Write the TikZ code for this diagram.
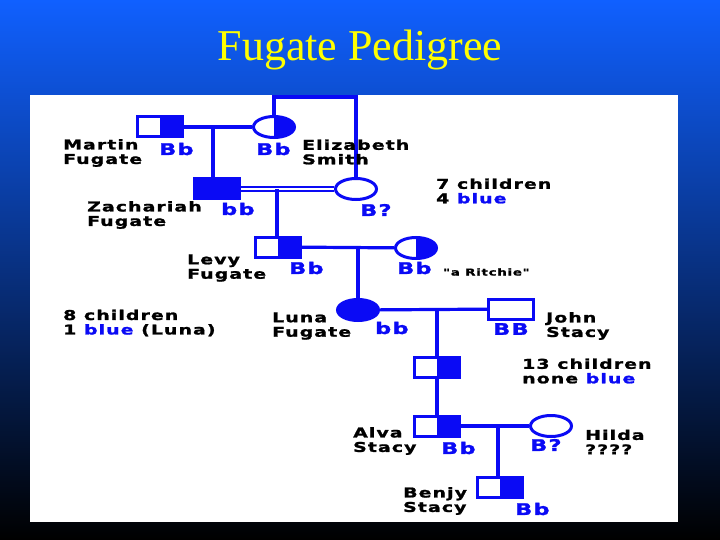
\documentclass[tikz,border=0pt]{standalone}
\usepackage{fontspec}
\setmainfont{Liberation Serif}
\newfontfamily\labf[FakeStretch=1.4,LetterSpace=8,FakeBold=1.5]{DejaVu Sans Bold}
\usetikzlibrary{shapes.geometric}
\definecolor{pb}{RGB}{10,10,245}
\definecolor{ttl}{RGB}{255,255,0}
\tikzset{
  sq/.style={draw=pb,line width=3pt,rectangle,minimum width=45pt,minimum height=20pt,inner sep=0pt},
  circ/.style={draw=pb,line width=3pt,ellipse,minimum width=41pt,minimum height=21pt,inner sep=0pt},
  half/.style={path picture={\fill[pb] (path picture bounding box.north) rectangle (path picture bounding box.south east);}},
  full/.style={fill=pb},
  con/.style={draw=pb,line width=3.2pt},
  lab/.style={anchor=west,align=left,inner sep=0pt,font=\labf\fontsize{13.5}{14.5}\selectfont,text=black},
  gen/.style={anchor=west,inner sep=0pt,font=\labf\fontsize{16}{16}\selectfont,text=pb},
}
\begin{document}
\begin{tikzpicture}[x=1pt,y=-1pt]
\shade[top color={rgb,255:red,16;green,96;blue,255},middle color={rgb,255:red,8;green,64;blue,210},bottom color=black] (0,0) rectangle (720,540);
\useasboundingbox (0,0) rectangle (720,540);
\node[text=ttl,font=\fontsize{44}{46}\selectfont] (title) at (360,50) {Fugate Pedigree};
\fill[white] (30,95) rectangle (678,522);
% shapes
\node[sq,half] (martin) at (160,127) {};
\node[circ,half] (eliz) at (274,127) {};
\node[sq,full] (zach) at (217,189) {};
\node[circ] (bq) at (356,189) {};
\node[sq,half] (levy) at (278,247) {};
\node[circ,half] (ritchie) at (416,248) {};
\node[circ,full] (luna) at (358,310) {};
\node[sq] (john) at (511,309) {};
\node[sq,half] (kid) at (437,367) {};
\node[sq,half] (alva) at (437,426) {};
\node[circ] (hilda) at (551,426) {};
\node[sq,half] (benjy) at (500,487) {};
% connectors
\coordinate (m1) at (213,127);
\coordinate (t2) at (356,97);
\coordinate (z1) at (277,189);
\coordinate (l1) at (358,248);
\coordinate (c1) at (437,309);
\coordinate (a1) at (498,426);
\draw[con] (martin) -- (eliz);
\draw[con] (m1) -- (m1 |- zach.north);
\draw[pb,line width=2pt,double=white,double distance=2pt] (zach.east) -- (bq.west);
\draw[con] (eliz.north) |- (t2) -- (bq.north);
\draw[con] (z1) -- (z1 |- levy.north);
\draw[con] (levy) -- (ritchie);
\draw[con] (l1) -- (luna.north);
\draw[con] (luna) -- (john);
\draw[con] (c1) -- (kid.north);
\draw[con] (kid) -- (alva);
\draw[con] (alva) -- (hilda);
\draw[con] (a1) -- (a1 |- benjy.north);
% labels
\node[lab] (lmartin) at (63,153) {Martin\\Fugate};
\node[gen] (gmartin) at (159,149) {Bb};
\node[gen] (geliz) at (256,149) {Bb};
\node[lab] (leliz) at (302,152) {Elizabeth\\Smith};
\node[lab] (l7) at (436,191) {7 children\\4 \textcolor{pb}{blue}};
\node[lab] (lzach) at (87,215) {Zachariah\\Fugate};
\node[gen] (gzach) at (221,209) {bb};
\node[gen] (gbq) at (360,210) {B?};
\node[lab] (llevy) at (187,268) {Levy\\Fugate};
\node[gen] (glevy) at (289,268) {Bb};
\node[gen] (grit) at (397,268) {Bb};
\node[lab,font=\labf\fontsize{9.5}{11}\selectfont] (lrit) at (443,272) {"a Ritchie"};
\node[lab] (l8) at (63,323) {8 children\\1 \textcolor{pb}{blue} (Luna)};
\node[lab] (lluna) at (272,326) {Luna\\Fugate};
\node[gen] (gluna) at (375,328) {bb};
\node[gen] (gjohn) at (493,329) {BB};
\node[lab] (ljohn) at (546,326) {John\\Stacy};
\node[lab] (l13) at (522,371) {13 children\\none \textcolor{pb}{blue}};
\node[lab] (lalva) at (353,441) {Alva\\Stacy};
\node[gen] (galva) at (441,448) {Bb};
\node[gen] (ghilda) at (530,445) {B?};
\node[lab] (lhilda) at (585,442) {Hilda\\????};
\node[lab] (lbenjy) at (403,501) {Benjy\\Stacy};
\node[gen] (gbenjy) at (515,509) {Bb};
\end{tikzpicture}
\end{document}
